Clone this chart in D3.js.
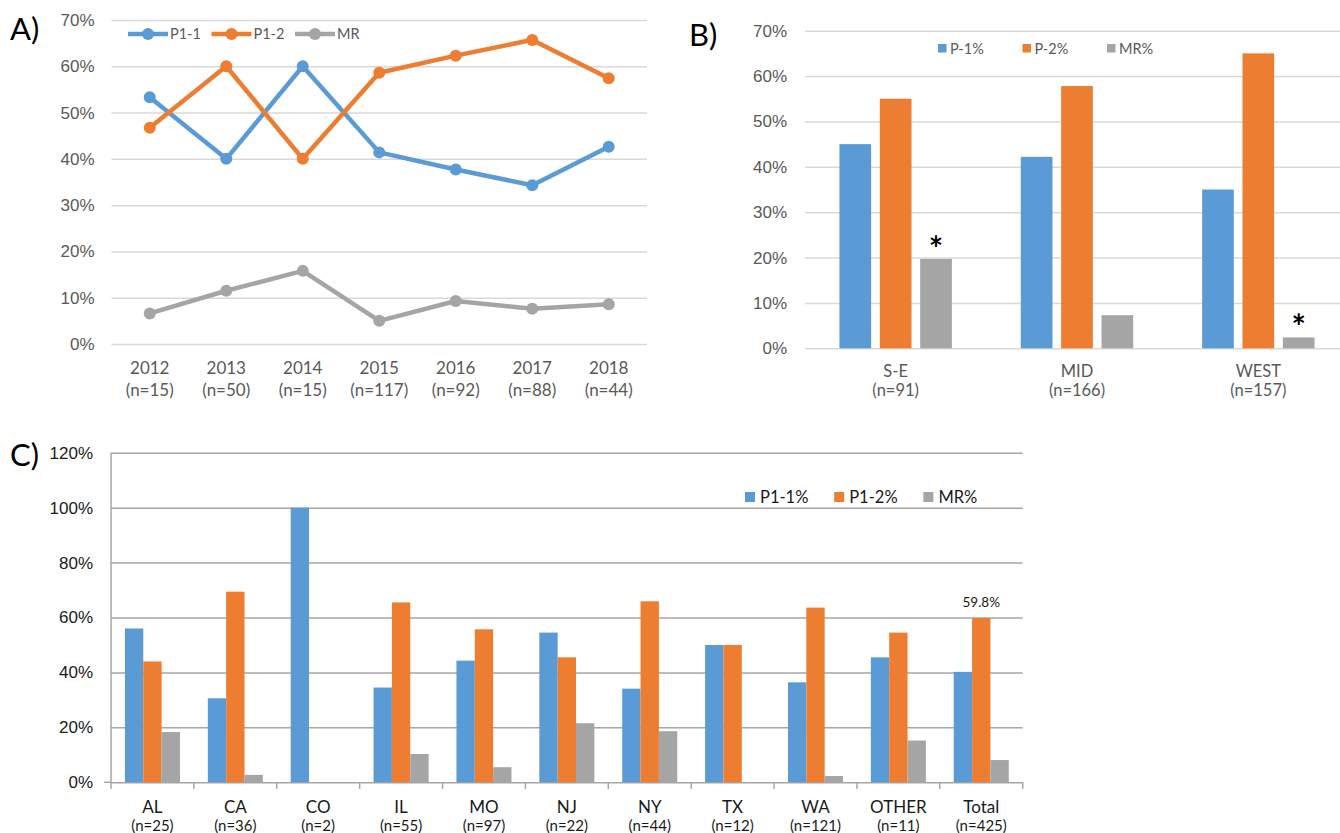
<!DOCTYPE html>
<html>
<head>
<meta charset="utf-8">
<script src="https://cdn.jsdelivr.net/npm/d3@7"></script>
<style>
  body { margin: 0; background: #fff; }
  svg { font-family: Lato, "Open Sans", sans-serif; display: block; }
</style>
</head>
<body>
<div id="chart"></div>
<script>
// panel A - yearly trend
const years = ["2012", "2013", "2014", "2015", "2016", "2017", "2018"];
const yearN = [15, 50, 15, 117, 92, 88, 44];
const p11 = [53.3, 40, 60, 41.4, 37.7, 34.3, 42.6];
const p12 = [46.7, 60, 40, 58.6, 62.3, 65.7, 57.4];
const mrA = [6.6, 11.5, 15.8, 5.0, 9.3, 7.6, 8.6];

// panel B - regions
const regions = ["S-E", "MID", "WEST"];
const regionN = [91, 166, 157];
const p1B = [45.0, 42.2, 35.0];
const p2B = [55.0, 57.8, 65.0];
const mrB = [19.7, 7.3, 2.4];
const starB = [true, false, true];

// panel C - states
const states = ["AL", "CA", "CO", "IL", "MO", "NJ", "NY", "TX", "WA", "OTHER", "Total"];
const stateN = [25, 36, 2, 55, 97, 22, 44, 12, 121, 11, 425];
const p1C = [56, 30.6, 100, 34.5, 44.3, 54.5, 34.1, 50, 36.4, 45.5, 40.2];
const p2C = [44, 69.4, 0, 65.5, 55.7, 45.5, 65.9, 50, 63.6, 54.5, 59.8];
const mrC = [18.3, 2.7, 0, 10.3, 5.5, 21.5, 18.6, 0, 2.3, 15.2, 8.1];

const colors = ["#5B9BD5", "#ED7D31", "#A5A5A5"];
const W = 1340, H = 833;
const svg = d3.select("#chart").append("svg").attr("width", W).attr("height", H);

// ---------- A ----------
const gA = svg.append("g");
const a0 = 111.5, a1 = 647;
const xA = d3.scaleBand().domain(years).range([a0, a1]);
const yA = d3.scaleLinear().domain([0, 70]).range([344, 20]);

gA.append("g")
  .attr("transform", `translate(${a0},0)`)
  .call(d3.axisLeft(yA).tickValues(d3.range(0, 71, 10)).tickFormat((d) => d + "%").tickSize(-(a1 - a0)).tickPadding(17))
  .call((g) => g.select(".domain").remove())
  .call((g) => g.selectAll("line").attr("stroke", "#d9d9d9").attr("stroke-width", 1.5))
  .call((g) => g.selectAll("text").attr("font-size", 17).attr("fill", "#595959").attr("font-family", null));

const catA = gA.selectAll(".catA").data(years).enter().append("g");
catA.append("text").attr("x", (d) => xA(d) + xA.bandwidth() / 2).attr("y", 374)
  .attr("text-anchor", "middle").attr("font-size", 17).attr("fill", "#595959").text((d) => d);
catA.append("text").attr("x", (d) => xA(d) + xA.bandwidth() / 2).attr("y", 396)
  .attr("text-anchor", "middle").attr("font-size", 17).attr("fill", "#595959").text((d, i) => `(n=${yearN[i]})`);

const seriesA = [
  { name: "P1-1", vals: p11, color: colors[0] },
  { name: "P1-2", vals: p12, color: colors[1] },
  { name: "MR", vals: mrA, color: colors[2] },
];
const line = d3.line().x((d, i) => xA(years[i]) + xA.bandwidth() / 2).y((d) => yA(d));
seriesA.forEach((s) => {
  gA.append("path").datum(s.vals).attr("d", line).attr("fill", "none")
    .attr("stroke", s.color).attr("stroke-width", 4.5).attr("stroke-linejoin", "round");
  gA.selectAll(null).data(s.vals).enter().append("circle")
    .attr("cx", (d, i) => xA(years[i]) + xA.bandwidth() / 2).attr("cy", (d) => yA(d))
    .attr("r", 6).attr("fill", s.color);
});
const legA = gA.selectAll(".legA").data(seriesA).enter().append("g")
  .attr("transform", (d, i) => `translate(${128 + i * 83.5},34)`);
legA.append("line").attr("x1", 0).attr("x2", 40).attr("stroke", (d) => d.color).attr("stroke-width", 4.5);
legA.append("circle").attr("cx", 20).attr("r", 6).attr("fill", (d) => d.color);
legA.append("text").attr("x", 42).attr("y", 5).attr("font-size", 14.5).attr("fill", "#595959").text((d) => d.name);

// ---------- B ----------
const gB = svg.append("g");
const xB = d3.scaleBand().domain(regions).range([805, 1349]).paddingInner(0.38).paddingOuter(0.19);
const xB1 = d3.scaleBand().domain([0, 1, 2]).range([0, xB.bandwidth()]).paddingInner(0.215);
const yB = d3.scaleLinear().domain([0, 70]).range([348.3, 30.7]);

gB.append("g")
  .attr("transform", "translate(805,0)")
  .call(d3.axisLeft(yB).tickValues(d3.range(0, 71, 10)).tickFormat((d) => d + "%").tickSize(-(1349 - 805)).tickPadding(18))
  .call((g) => g.select(".domain").remove())
  .call((g) => g.selectAll("line").attr("stroke", "#d9d9d9").attr("stroke-width", 1.5))
  .call((g) => g.selectAll("text").attr("font-size", 17).attr("fill", "#595959").attr("font-family", null));

const groupsB = gB.selectAll(".grpB").data(regions).enter().append("g")
  .attr("transform", (d) => `translate(${xB(d)},0)`);
[p1B, p2B, mrB].forEach((vals, k) => {
  groupsB.append("rect")
    .attr("x", xB1(k)).attr("width", xB1.bandwidth())
    .attr("y", (d, i) => yB(vals[i])).attr("height", (d, i) => yB(0) - yB(vals[i]))
    .attr("fill", colors[k]);
});
groupsB.filter((d, i) => starB[i]).append("text")
  .attr("x", xB1(2) + xB1.bandwidth() / 2)
  .attr("y", (d) => yB(mrB[regions.indexOf(d)]) + 2)
  .attr("text-anchor", "middle").attr("font-size", 34).attr("font-weight", "bold").attr("fill", "#000").text("*");
groupsB.append("text").attr("x", xB.bandwidth() / 2).attr("y", 377)
  .attr("text-anchor", "middle").attr("font-size", 16.5).attr("fill", "#595959").text((d) => d);
groupsB.append("text").attr("x", xB.bandwidth() / 2).attr("y", 396)
  .attr("text-anchor", "middle").attr("font-size", 16.5).attr("fill", "#595959").text((d, i) => `(n=${regionN[i]})`);

const legB = gB.selectAll(".legB").data(["P-1%", "P-2%", "MR%"]).enter().append("g")
  .attr("transform", (d, i) => `translate(${938 + i * 84.5},44)`);
legB.append("rect").attr("width", 8.5).attr("height", 8.5).attr("fill", (d, i) => colors[i]);
legB.append("text").attr("x", 12).attr("y", 9.5).attr("font-size", 14.5).attr("fill", "#595959").text((d) => d);

// ---------- C ----------
const gC = svg.append("g");
const xC = d3.scaleBand().domain(states).range([111, 1022.7]).paddingInner(0.336).paddingOuter(0.168);
const xC1 = d3.scaleBand().domain([0, 1, 2]).range([0, xC.bandwidth()]);
const yC = d3.scaleLinear().domain([0, 120]).range([782.3, 452.7]);

gC.append("g")
  .attr("transform", "translate(111,0)")
  .call(d3.axisLeft(yC).tickValues(d3.range(0, 121, 20)).tickFormat((d) => d + "%").tickSize(-(1022.7 - 111)).tickPadding(18))
  .call((g) => g.select(".domain").remove())
  .call((g) => g.selectAll("line").attr("stroke", "#a6a6a6").attr("stroke-width", 1.5))
  .call((g) => g.selectAll("text").attr("font-size", 17).attr("fill", "#1a1a1a").attr("font-family", null));
// y axis line + x axis ticks
gC.append("line").attr("x1", 111).attr("x2", 111).attr("y1", yC(120)).attr("y2", 789)
  .attr("stroke", "#a6a6a6").attr("stroke-width", 1.5);
gC.append("line").attr("x1", 104).attr("x2", 111).attr("y1", yC(0)).attr("y2", yC(0))
  .attr("stroke", "#a6a6a6").attr("stroke-width", 1.5);
gC.selectAll(".tickC").data(states).enter().append("line")
  .attr("x1", (d) => xC(d) - xC.step() * 0.168 + xC.step()).attr("x2", (d) => xC(d) - xC.step() * 0.168 + xC.step())
  .attr("y1", yC(0)).attr("y2", 789).attr("stroke", "#a6a6a6").attr("stroke-width", 1.5);

const groupsC = gC.selectAll(".grpC").data(states).enter().append("g")
  .attr("transform", (d) => `translate(${xC(d)},0)`);
[p1C, p2C, mrC].forEach((vals, k) => {
  groupsC.append("rect")
    .attr("x", xC1(k)).attr("width", xC1.bandwidth())
    .attr("y", (d, i) => yC(vals[i])).attr("height", (d, i) => yC(0) - yC(vals[i]))
    .attr("fill", colors[k]);
});
groupsC.append("text").attr("x", xC.bandwidth() / 2).attr("y", 813)
  .attr("text-anchor", "middle").attr("font-size", 17).attr("fill", "#1a1a1a").text((d) => d);
groupsC.append("text").attr("x", xC.bandwidth() / 2).attr("y", 831)
  .attr("text-anchor", "middle").attr("font-size", 15).attr("fill", "#1a1a1a").text((d, i) => `(n=${stateN[i]})`);
// total label
const iT = states.length - 1;
gC.append("text").attr("x", xC("Total") + xC1(1) + xC1.bandwidth() / 2).attr("y", yC(p2C[iT]) - 11)
  .attr("text-anchor", "middle").attr("font-size", 13.5).attr("fill", "#1a1a1a").text(p2C[iT].toFixed(1) + "%");

const legC = gC.selectAll(".legC").data(["P1-1%", "P1-2%", "MR%"]).enter().append("g")
  .attr("transform", (d, i) => `translate(${745 + i * 89.2},492)`);
legC.append("rect").attr("width", 10).attr("height", 10).attr("fill", (d, i) => colors[i]);
legC.append("text").attr("x", 15).attr("y", 10.5).attr("font-size", 16.5).attr("fill", "#1a1a1a").text((d) => d);

// panel letters
svg.selectAll(".panel").data([
  { t: "A)", x: 10, y: 40 },
  { t: "B)", x: 689, y: 46 },
  { t: "C)", x: 10, y: 466 },
]).enter().append("text")
  .attr("x", (d) => d.x).attr("y", (d) => d.y).attr("font-size", 31).attr("fill", "#000").text((d) => d.t);
</script>
</body>
</html>
